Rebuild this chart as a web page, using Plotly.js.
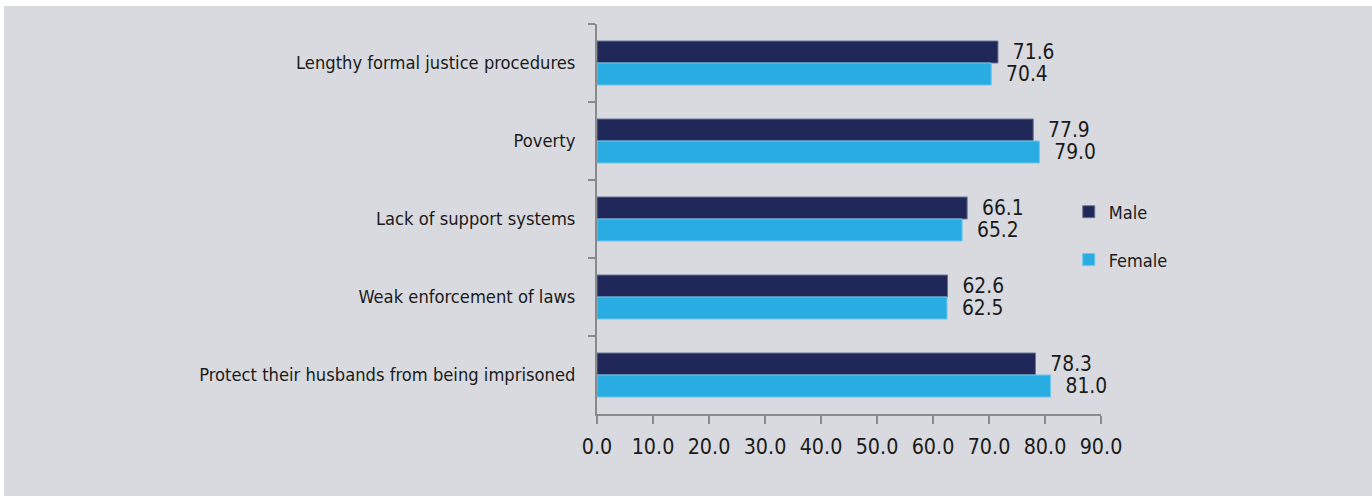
<!DOCTYPE html>
<html>
<head>
<meta charset="utf-8">
<script src="https://cdn.plot.ly/plotly-3.0.1.min.js"></script>
<style>
  html, body { margin: 0; padding: 0; background: #ffffff; width: 1372px; height: 496px; overflow: hidden; }
  #chart { position: absolute; left: 4px; top: 6px; width: 1368px; height: 490px; }
</style>
</head>
<body>
<div id="chart"></div>
<script>
const categories = [
  "Lengthy formal justice procedures",
  "Poverty",
  "Lack of support systems",
  "Weak enforcement of laws",
  "Protect their husbands from being imprisoned"
];
const maleValues = [71.6, 77.9, 66.1, 62.6, 78.3];
const femaleValues = [70.4, 79.0, 65.2, 62.5, 81.0];
const seriesNames = ["Male", "Female"];
const xTickValues = [0, 10, 20, 30, 40, 50, 60, 70, 80, 90];

const FONT = "'Liberation Sans Narrow', 'Arial Narrow', 'DejaVu Sans Condensed', sans-serif";
const TEXT = "#1a1a1a";
const AXIS = "#8a8a8a";

const traces = [
  {
    type: "bar", orientation: "h", name: seriesNames[0],
    y: categories, x: maleValues,
    legendgroup: "m",
    marker: { color: "#1f2858", line: { color: "#6b7696", width: 1 } },
    texttemplate: "\u00a0\u00a0%{x:.1f}", textposition: "outside",
    textfont: { family: FONT, size: 20.8, color: TEXT },
    cliponaxis: false, constraintext: "none", hoverinfo: "x+y"
  },
  {
    type: "bar", orientation: "h", name: seriesNames[1],
    y: categories, x: femaleValues,
    legendgroup: "f",
    marker: { color: "#29ace2", line: { color: "#6cc6ee", width: 1 } },
    texttemplate: "\u00a0\u00a0%{x:.1f}", textposition: "outside",
    textfont: { family: FONT, size: 20.8, color: TEXT },
    cliponaxis: false, constraintext: "none", hoverinfo: "x+y"
  }
];

const layout = {
  width: 1368, height: 490,
  paper_bgcolor: "#d9dadf", plot_bgcolor: "#d9dadf",
  margin: { l: 593, r: 271, t: 18, b: 82, pad: 0 },
  barmode: "group", bargap: 0.436, bargroupgap: 0,
  font: { family: FONT, color: TEXT, size: 18 },
  showlegend: true,
  legend: {
    x: 0.936, xanchor: "left", y: 0.4564, yanchor: "middle",
    bgcolor: "rgba(0,0,0,0)", traceorder: "grouped", tracegroupgap: 21.5,
    font: { family: FONT, size: 18, color: TEXT }
  },
  xaxis: {
    range: [0, 90], tickvals: xTickValues, tickformat: ".1f",
    showgrid: false, zeroline: false,
    showline: true, linecolor: AXIS, linewidth: 2,
    ticks: "outside", ticklen: 8, tickwidth: 1.5, tickcolor: AXIS,
    ticklabelstandoff: 4,
    tickfont: { family: FONT, size: 21.3, color: TEXT }
  },
  yaxis: {
    autorange: "reversed", tickson: "boundaries",
    showgrid: false, zeroline: false,
    showline: true, linecolor: AXIS, linewidth: 2,
    ticks: "outside", ticklen: 7, tickwidth: 1.5, tickcolor: AXIS,
    ticklabelstandoff: 16,
    tickfont: { family: FONT, size: 18.2, color: TEXT }
  }
};

Plotly.newPlot("chart", traces, layout, { displayModeBar: false, staticPlot: true });
</script>
</body>
</html>
